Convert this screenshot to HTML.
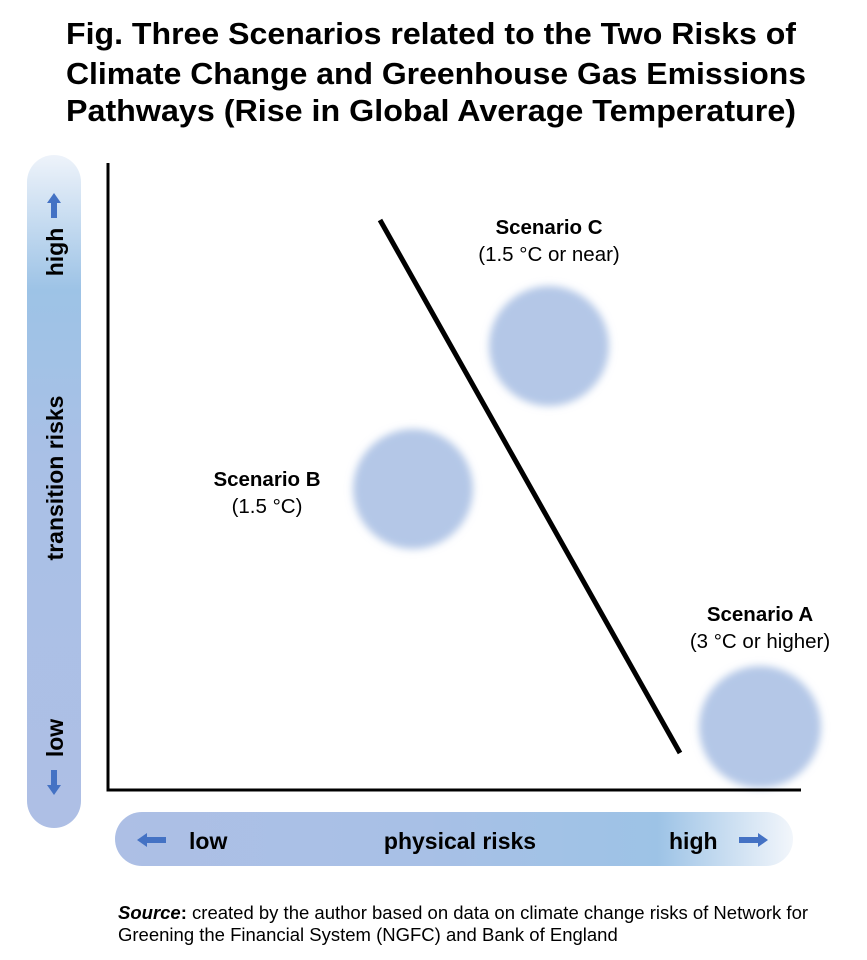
<!DOCTYPE html>
<html><head><meta charset="utf-8"><style>
body{margin:0;background:#fff;width:867px;height:955px;overflow:hidden;font-family:"Liberation Sans",Arial,sans-serif}
</style></head><body>
<svg width="867" height="955" xmlns="http://www.w3.org/2000/svg" font-family="Liberation Sans, Arial, sans-serif">
<defs>
<linearGradient id="vg" x1="0" y1="0" x2="0" y2="1">
<stop offset="0" stop-color="#eef3fa"/><stop offset="0.2" stop-color="#9dc3e6"/><stop offset="0.45" stop-color="#a9c0e6"/><stop offset="1" stop-color="#aebfe5"/></linearGradient>
<linearGradient id="hg" x1="0" y1="0" x2="1" y2="0">
<stop offset="0" stop-color="#adbfe5"/><stop offset="0.45" stop-color="#a8c0e6"/><stop offset="0.8" stop-color="#9dc3e6"/><stop offset="1" stop-color="#f2f6fb"/></linearGradient>
<filter id="bl" x="-30%" y="-30%" width="160%" height="160%"><feGaussianBlur stdDeviation="4"/></filter>
</defs>
<g font-weight="bold" font-size="31" fill="#000">
<text x="66" y="44" textLength="730" lengthAdjust="spacingAndGlyphs">Fig. Three Scenarios related to the Two Risks of</text>
<text x="66" y="84" textLength="740" lengthAdjust="spacingAndGlyphs">Climate Change and Greenhouse Gas Emissions</text>
<text x="66" y="121" textLength="730" lengthAdjust="spacingAndGlyphs">Pathways (Rise in Global Average Temperature)</text>
</g>
<rect x="27" y="155" width="54" height="673" rx="27" fill="url(#vg)"/>
<rect x="115" y="812" width="678" height="54" rx="27" fill="url(#hg)"/>
<g font-weight="bold" font-size="23" fill="#000">
<text transform="translate(63,252) rotate(-90)" text-anchor="middle">high</text>
<text transform="translate(63,478) rotate(-90)" text-anchor="middle">transition risks</text>
<text transform="translate(63,738) rotate(-90)" text-anchor="middle">low</text>
<text x="189" y="849">low</text>
<text x="460" y="849" text-anchor="middle">physical risks</text>
<text x="669" y="849">high</text>
</g>
<g fill="#4472c4">
<polygon points="54,193 47,203 51,203 51,218 57,218 57,203 61,203"/>
<polygon points="54,795 47,785 51,785 51,770 57,770 57,785 61,785"/>
<polygon points="137,840 147,833 147,837 166,837 166,843 147,843 147,847"/>
<polygon points="768,840 758,833 758,837 739,837 739,843 758,843 758,847"/>
</g>
<g fill="#b4c7e7" filter="url(#bl)">
<circle cx="549" cy="346" r="60"/>
<circle cx="413" cy="489" r="60"/>
<circle cx="760" cy="727" r="61"/>
</g>
<path d="M108 163 V790 H801" fill="none" stroke="#000" stroke-width="3"/>
<line x1="380" y1="220" x2="680" y2="753" stroke="#000" stroke-width="5"/>
<g font-size="20.5" fill="#000" text-anchor="middle">
<text x="549" y="234" font-weight="bold">Scenario C</text>
<text x="549" y="261">(1.5 °C or near)</text>
<text x="267" y="486" font-weight="bold">Scenario B</text>
<text x="267" y="513">(1.5 °C)</text>
<text x="760" y="621" font-weight="bold">Scenario A</text>
<text x="760" y="648">(3 °C or higher)</text>
</g>
<g font-size="18.5" fill="#000">
<text x="118" y="919"><tspan font-weight="bold" font-style="italic">Source</tspan><tspan font-weight="bold">:</tspan> created by the author based on data on climate change risks of Network for</text>
<text x="118" y="941">Greening the Financial System (NGFC) and Bank of England</text>
</g>
</svg>
</body></html>
